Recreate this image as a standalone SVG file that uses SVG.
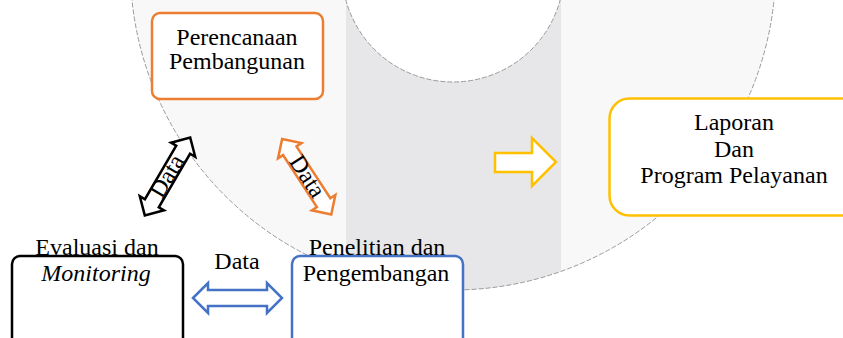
<svg xmlns="http://www.w3.org/2000/svg" width="843" height="338" viewBox="0 0 843 338">
<style>
  .t { font-family: "Liberation Serif", "Times New Roman", serif; font-size: 24px; fill: #000; text-anchor: middle; }
  .box { fill: #fff; stroke-width: 2.5; }
  .ring-edge { fill: none; stroke: #9a9a9a; stroke-width: 1; stroke-dasharray: 5 2; }
  .arr { fill: #fff; stroke-width: 2.5; stroke-linejoin: miter; }
</style>
<defs>
  <clipPath id="ringClip">
    <path clip-rule="evenodd" d="M 130.3,-32.7 A 322.7,322.7 0 1 0 775.7,-32.7 A 322.7,322.7 0 1 0 130.3,-32.7 Z M 342,-29 A 111,111 0 1 0 564,-29 A 111,111 0 1 0 342,-29 Z"/>
  </clipPath>
  <path id="dbl" d="M -45,0 L -31,-14 L -31,-8 L 31,-8 L 31,-14 L 45,0 L 31,14 L 31,8 L -31,8 L -31,14 Z"/>
</defs>
<rect x="0" y="0" width="843" height="338" fill="#fff"/>
<g id="background">
  <path fill="#f8f8f8" fill-rule="evenodd" d="M 130.3,-32.7 A 322.7,322.7 0 1 0 775.7,-32.7 A 322.7,322.7 0 1 0 130.3,-32.7 Z M 342,-29 A 111,111 0 1 0 564,-29 A 111,111 0 1 0 342,-29 Z"/>
  <rect x="346" y="0" width="215" height="300" fill="#e7e7e9" clip-path="url(#ringClip)"/>
  <circle class="ring-edge" cx="453" cy="-32.7" r="322.7"/>
  <circle class="ring-edge" cx="453" cy="-29" r="111"/>
</g>
<g id="connectors">
  <g id="arrow-eval-perencanaan" transform="translate(167.5,176.5) rotate(-59.7)">
    <use href="#dbl" class="arr" stroke="#000"/>
    <text class="t" x="0" y="7" font-size="22">Data</text>
  </g>
  <g id="arrow-perencanaan-penelitian" transform="translate(306.7,176.7) rotate(56.9)">
    <use href="#dbl" class="arr" stroke="#ED7D31"/>
    <text class="t" x="0" y="7" font-size="22">Data</text>
  </g>
  <g id="arrow-eval-penelitian">
    <path class="arr" stroke="#4472C4" d="M 193,298 L 208,283 L 208,290 L 267,290 L 267,283 L 282,298 L 267,313 L 267,306 L 208,306 L 208,313 Z"/>
    <text class="t" x="237" y="269">Data</text>
  </g>
  <g id="arrow-to-laporan">
    <path class="arr" stroke="#FFC000" d="M 495,153 L 532,153 L 532,138 L 556,162 L 532,186 L 532,172 L 495,172 Z"/>
  </g>
</g>
<g id="node-perencanaan">
  <rect class="box" x="152" y="13" width="171" height="86" rx="8" stroke="#ED7D31"/>
  <text class="t" x="237" y="45">Perencanaan</text>
  <text class="t" x="237" y="69">Pembangunan</text>
</g>
<g id="node-laporan">
  <rect class="box" x="609.5" y="98.5" width="260" height="117" rx="20" stroke="#FFC000"/>
  <text class="t" x="734" y="130">Laporan</text>
  <text class="t" x="734" y="157">Dan</text>
  <text class="t" x="734" y="183">Program Pelayanan</text>
</g>
<g id="node-evaluasi">
  <rect class="box" x="12" y="256" width="171" height="110" rx="8" stroke="#000"/>
  <text class="t" x="97" y="255">Evaluasi dan</text>
  <text class="t" x="96" y="281" font-style="italic">Monitoring</text>
</g>
<g id="node-penelitian">
  <rect class="box" x="292" y="256" width="171" height="110" rx="8" stroke="#4472C4"/>
  <text class="t" x="377" y="255">Penelitian dan</text>
  <text class="t" x="376" y="281">Pengembangan</text>
</g>
</svg>
